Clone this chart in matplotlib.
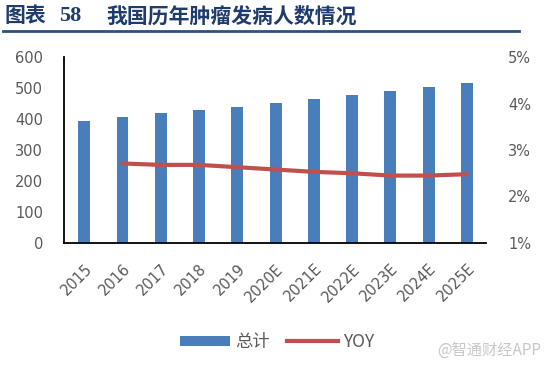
import matplotlib
matplotlib.use("Agg")
import matplotlib.pyplot as plt
from matplotlib.lines import Line2D
from matplotlib.patches import Patch

years = ["2015", "2016", "2017", "2018", "2019", "2020E", "2021E", "2022E", "2023E", "2024E", "2025E"]
total = [395, 406, 420, 430, 440, 453, 465, 478, 489, 502, 516]
yoy_years = years[1:]
yoy = [2.71, 2.68, 2.68, 2.63, 2.58, 2.53, 2.50, 2.45, 2.45, 2.48]
left_ticks = [0, 100, 200, 300, 400, 500, 600]
right_ticks = [1, 2, 3, 4, 5]

plt.rcParams['font.family'] = ['DejaVu Sans', 'Noto Sans CJK SC']

W, H = 554, 370
fig = plt.figure(figsize=(W / 100, H / 100), dpi=100)

def fx(px):
    return px / W

def fy(py):
    return 1 - py / H

ax = fig.add_axes([fx(64), fy(243), fx(486) - fx(64), fy(57) - fy(243)])
bar_color = "#4a7ebb"
line_color = "#c0504d"
grey = "#595959"

x = list(range(len(years)))
ax.bar(x, total, width=0.31, color=bar_color, zorder=2)
ax.set_ylim(0, 600)
ax.set_xlim(-0.53, 10.5)
ax.set_yticks(left_ticks)
ax.set_yticklabels([str(t) for t in left_ticks])
ax.set_xticks(x)
ax.set_xticklabels(years, rotation=45, ha="right", rotation_mode="anchor")
ax.tick_params(axis="both", length=0, colors=grey, labelsize=10.5)
ax.tick_params(axis="y", pad=15)
ax.tick_params(axis="x", pad=13)
for lbl in ax.get_xticklabels():
    lbl.set_x(lbl.get_position()[0])
for s in ["top", "right"]:
    ax.spines[s].set_visible(False)
ax.spines["left"].set_color("black")
ax.spines["bottom"].set_color("black")
ax.spines["left"].set_linewidth(1.3)
ax.spines["bottom"].set_linewidth(1.3)

ax2 = ax.twinx()
ax2.plot([years.index(y) for y in yoy_years], yoy, color=line_color, linewidth=3, solid_capstyle="round", zorder=3)
ax2.set_ylim(1, 5)
ax2.set_yticks(right_ticks)
ax2.set_yticklabels([f"{t}%" for t in right_ticks])
ax2.tick_params(axis="y", length=0, colors=grey, labelsize=10.5, pad=16)
for s in ["top", "right", "left", "bottom"]:
    ax2.spines[s].set_visible(False)

# Title
tcolor = "#1f3c6e"
fig.text(fx(5), fy(16), "图表", fontsize=15, fontweight="bold", color=tcolor,
         family=["Noto Sans CJK SC"], va="center", ha="left")
fig.text(fx(59), fy(16), "58", fontsize=16, fontweight="bold", color=tcolor,
         family=["Liberation Serif"], va="center", ha="left")
fig.text(fx(106), fy(16), "我国历年肿瘤发病人数情况", fontsize=15, fontweight="bold", color=tcolor,
         family=["Noto Sans CJK SC"], va="center", ha="left")
fig.add_artist(Line2D([fx(3), fx(519)], [fy(31), fy(31)], color="#2f4f80", linewidth=2))

# Legend
handles = [Patch(facecolor=bar_color, edgecolor="none"), Line2D([0], [0], color=line_color, linewidth=3)]
leg = fig.legend(handles, ["总计", "YOY"], loc="center", bbox_to_anchor=(0.5, fy(342)), ncol=2,
                 frameon=False, prop={"family": ["Noto Sans CJK SC"], "size": 12.5},
                 handlelength=2.9, handleheight=0.5, columnspacing=1.0, handletextpad=0.3)
for t in leg.get_texts():
    t.set_color(grey)

# Watermark
fig.text(fx(437), fy(350), "@智通财经APP", fontsize=11, color="#c8c8c8",
         family=["Noto Sans CJK SC"], va="center", ha="left")

fig.savefig("out.png", dpi=100)
